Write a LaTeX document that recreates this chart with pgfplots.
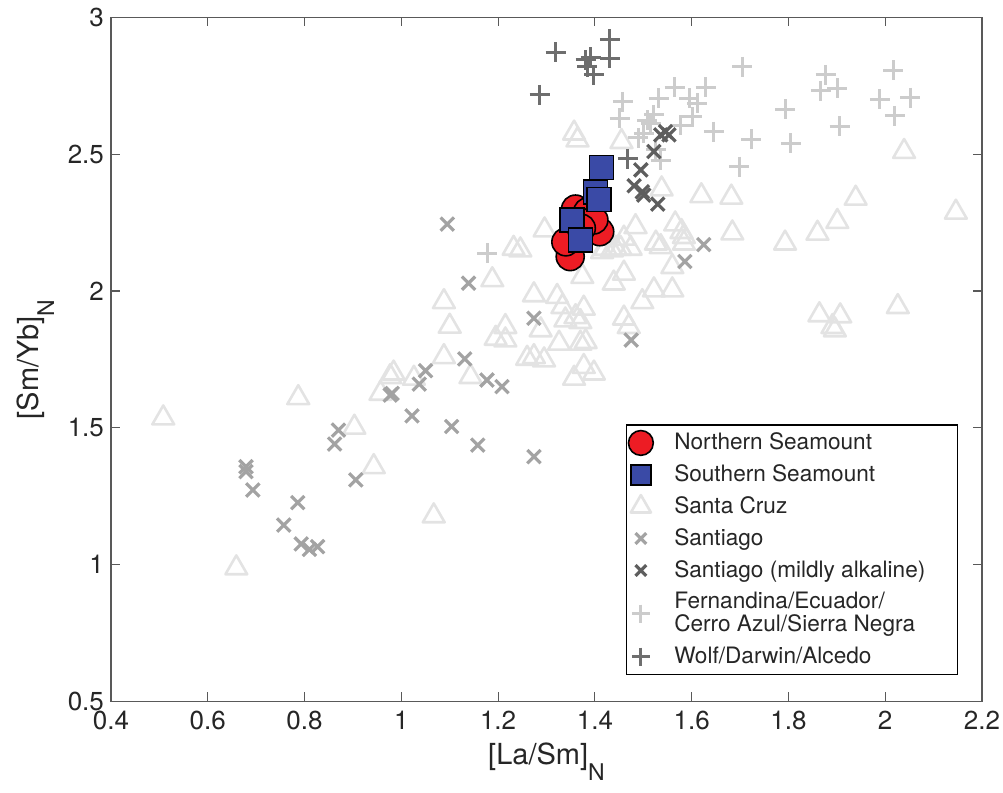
\documentclass[border=0pt]{standalone}
\usepackage{fontspec}
\setmainfont{TeX Gyre Heros}
\usepackage{pgfplots}
\pgfplotsset{compat=1.18}
\definecolor{txt}{gray}{0.15}
\definecolor{axc}{gray}{0.35}
\definecolor{nred}{RGB}{237,28,36}
\definecolor{sblue}{RGB}{58,74,166}
\definecolor{scruz}{gray}{0.89}
\definecolor{sant}{gray}{0.64}
\definecolor{santma}{gray}{0.37}
\definecolor{fern}{gray}{0.80}
\definecolor{wolf}{gray}{0.43}
\newcommand{\subN}{\raisebox{-0.55em}{\fontsize{11.5}{12}\selectfont N}}
\pgfplotsset{
  nstyle/.style={only marks, mark=*, mark size=7pt, mark options={fill=nred, draw=black, line width=0.8pt}},
  sstyle/.style={only marks, mark=square*, mark size=6pt, mark options={fill=sblue, draw=black, line width=0.8pt}},
  scstyle/.style={only marks, mark=triangle, mark size=6.3pt, mark options={draw=scruz, line width=1.3pt, line join=round}},
  sastyle/.style={only marks, mark=x, mark size=4.7pt, mark options={draw=sant, line width=1.6pt}},
  mastyle/.style={only marks, mark=x, mark size=4.7pt, mark options={draw=santma, line width=1.6pt}},
  fstyle/.style={only marks, mark=+, mark size=5pt, mark options={draw=fern, line width=1.5pt}},
  wstyle/.style={only marks, mark=+, mark size=5pt, mark options={draw=wolf, line width=1.5pt}},
}
\begin{document}
\begin{tikzpicture}
\path[use as bounding box] (-55.5pt,-45.75pt) rectangle (446pt,350.75pt);
\begin{axis}[
  scale only axis, width=435.5pt, height=342pt,
  xmin=0.4, xmax=2.2, ymin=0.5, ymax=3,
  xtick={0.4,0.6,0.8,1,1.2,1.4,1.6,1.8,2,2.2},
  ytick={0.5,1,1.5,2,2.5,3},
  tick align=inside, major tick length=4.5pt,
  tick style={axc, line width=0.6pt},
  axis line style={axc, line width=0.6pt},
  /pgf/number format/assume math mode=true,
  every tick label/.append style={font=\fontsize{13}{15}\selectfont, text=txt},
  xticklabel style={yshift=-1pt},
  xlabel={[La/Sm]\subN}, ylabel={[Sm/Yb]\subN},
  label style={font=\fontsize{14.5}{16}\selectfont, text=txt},
  legend style={at={(0.9724,0.0387)}, anchor=south east, draw=black, line width=0.6pt,
    inner xsep=1pt,
    font=\fontsize{11.3}{11.5}\selectfont, text=txt, cells={anchor=west, align=left}, row sep=2pt,
    /tikz/every odd column/.append style={column sep=8.5pt}},
  legend cell align=left,
]
% Santa Cruz
\addplot[scstyle, forget plot] coordinates {
(0.508,1.536) (0.659,0.988) (0.787,1.610) (1.067,1.178) (0.903,1.502) (0.943,1.358)
(0.977,1.687) (0.957,1.626) (1.026,1.681) (0.984,1.700) (1.088,1.961) (1.100,1.871)
(1.088,1.760) (1.143,1.687) (1.188,2.041) (1.274,1.986) (1.322,1.980) (1.333,1.943)
(1.377,1.937) (1.360,1.906) (1.339,1.894) (1.370,1.888) (1.288,1.858) (1.215,1.870)
(1.195,1.827) (1.215,1.821) (1.326,1.809) (1.370,1.809) (1.381,1.815) (1.260,1.754)
(1.274,1.760) (1.295,1.748) (1.377,1.724) (1.398,1.700) (1.357,1.681) (1.374,2.053)
(1.439,2.029) (1.460,2.065) (1.498,1.961) (1.460,1.901) (1.470,1.870) (1.522,2.004)
(1.560,2.004) (1.560,2.089) (1.453,2.156) (1.232,2.156) (1.246,2.150) (1.357,2.577)
(1.364,2.552) (1.455,2.546) (1.620,2.348) (1.538,2.373) (1.296,2.223) (1.484,2.235)
(1.536,2.162) (1.566,2.245) (1.584,2.199) (1.579,2.217) (1.584,2.175) (1.526,2.175)
(1.460,2.193) (1.443,2.156) (1.422,2.156) (1.474,2.156) (1.415,2.144) (1.435,2.150)
(2.039,2.510) (1.682,2.343) (1.684,2.212) (1.939,2.339) (1.901,2.254) (1.860,2.211)
(1.793,2.175) (2.146,2.288) (1.864,1.913) (1.907,1.909) (1.891,1.870) (1.896,1.858)
(2.026,1.943)
};
% Santiago
\addplot[sastyle, forget plot] coordinates {
(1.095,2.245) (1.139,2.029) (1.274,1.901) (1.475,1.821) (1.131,1.752) (1.050,1.709)
(1.037,1.660) (0.977,1.620) (0.981,1.626) (1.022,1.544) (1.177,1.675) (1.208,1.651)
(1.104,1.505) (1.158,1.437) (1.274,1.395) (0.870,1.492) (0.862,1.441) (0.906,1.310)
(0.679,1.358) (0.679,1.340) (0.693,1.273) (0.786,1.227) (0.757,1.145) (0.793,1.076)
(0.810,1.056) (0.827,1.066) (1.625,2.170) (1.586,2.108)
};
% Fernandina / Ecuador / Cerro Azul / Sierra Negra
\addplot[fstyle, forget plot] coordinates {
(1.458,2.692) (1.451,2.632) (1.532,2.705) (1.522,2.644) (1.508,2.625) (1.501,2.577)
(1.515,2.614) (1.565,2.745) (1.595,2.705) (1.629,2.745) (1.612,2.686) (1.601,2.637)
(1.646,2.583) (1.577,2.607) (1.536,2.479) (1.526,2.516) (1.705,2.820) (1.723,2.555)
(1.698,2.455) (1.793,2.664) (1.805,2.540) (1.877,2.790) (1.867,2.732) (1.901,2.741)
(1.906,2.603) (2.017,2.808) (1.989,2.701) (2.052,2.707) (2.020,2.640) (1.178,2.139)
(1.490,2.560)
};
% Santiago (mildly alkaline)
\addplot[mastyle, forget plot] coordinates {
(1.536,2.571) (1.553,2.571) (1.546,2.583) (1.522,2.510) (1.495,2.443) (1.481,2.385)
(1.501,2.351) (1.498,2.363) (1.530,2.318)
};
% Wolf / Darwin / Alcedo
\addplot[wstyle, forget plot] coordinates {
(1.431,2.921) (1.319,2.873) (1.391,2.855) (1.381,2.845) (1.431,2.851) (1.384,2.820)
(1.398,2.790) (1.286,2.717) (1.468,2.483)
};
% Northern Seamount
\addplot[nstyle, forget plot] coordinates {
(1.349,2.126) (1.340,2.180) (1.410,2.217) (1.360,2.300) (1.385,2.290) (1.398,2.260)
(1.372,2.230)
};
% Southern Seamount
\addplot[sstyle, forget plot] coordinates {
(1.414,2.452) (1.401,2.363) (1.408,2.335) (1.353,2.260) (1.370,2.187)
};
\addlegendimage{nstyle, mark size=6.2pt}\addlegendentry{Northern Seamount}
\addlegendimage{sstyle, mark size=5pt}\addlegendentry{Southern Seamount}
\addlegendimage{scstyle, mark size=5.8pt}\addlegendentry{Santa Cruz}
\addlegendimage{sastyle, mark size=3.8pt}\addlegendentry{Santiago}
\addlegendimage{mastyle, mark size=3.8pt}\addlegendentry{Santiago (mildly alkaline)\hspace{13pt}}
\addlegendimage{fstyle, mark size=4.5pt}\addlegendentry{Fernandina/Ecuador/\\Cerro Azul/Sierra Negra}
\addlegendimage{wstyle, mark size=4.5pt}\addlegendentry{Wolf/Darwin/Alcedo}
\end{axis}
\end{tikzpicture}
\end{document}
